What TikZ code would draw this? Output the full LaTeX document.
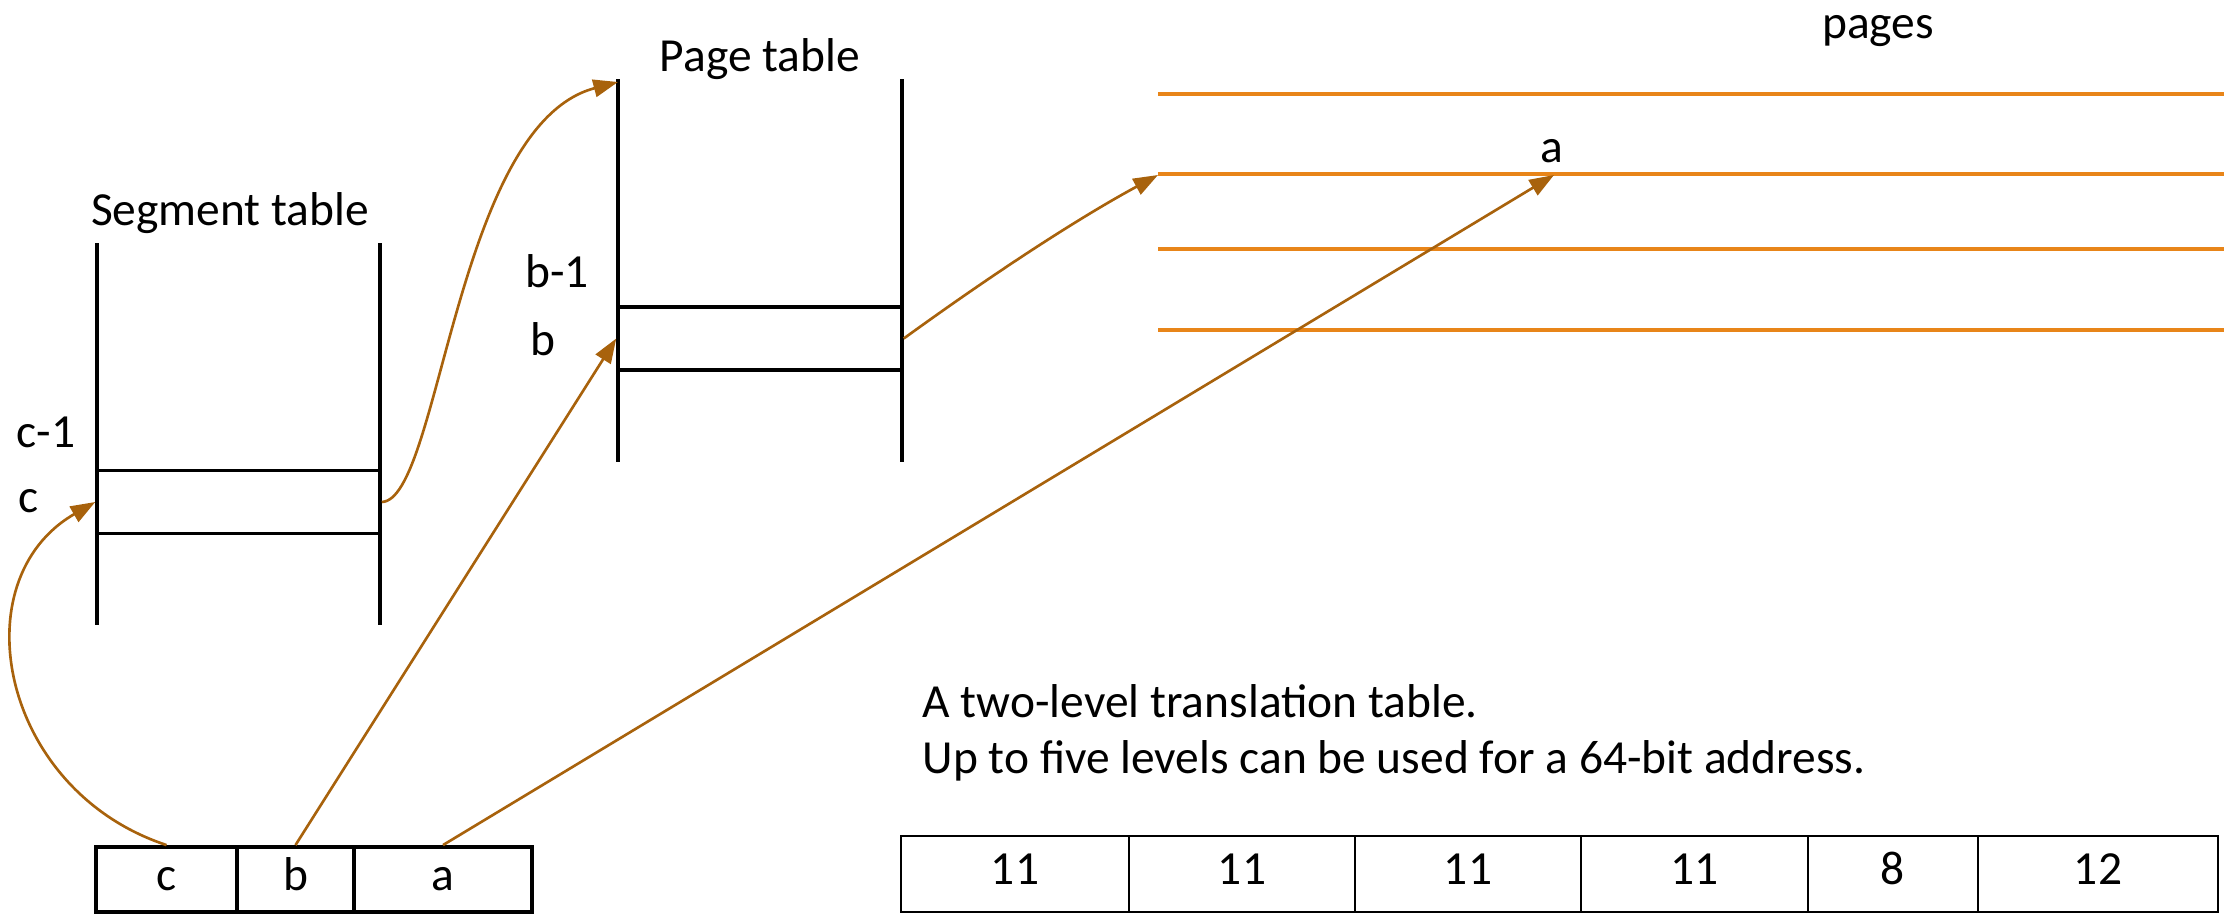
\documentclass[tikz,border=0pt]{standalone}
\usepackage{fontspec}
\setmainfont{Carlito}
\usetikzlibrary{arrows.meta}
\definecolor{arrowbrown}{RGB}{168,98,12}
\definecolor{pageorange}{RGB}{232,133,25}
\begin{document}
\begin{tikzpicture}[x=0.01cm,y=-0.01cm,
  txt/.style={font=\fontsize{13.5}{16}\selectfont, inner sep=0pt, anchor=base},
  tableline/.style={line width=0.95pt, black},
  rowbox/.style={draw, line width=0.95pt, inner sep=0pt, minimum height=0.63cm},
  addrcell/.style={draw, line width=1.1pt, inner sep=0pt, minimum height=0.65cm,
    font=\fontsize{13.5}{16}\selectfont, text height=1.5ex, text depth=.25ex},
  fieldcell/.style={draw, line width=0.6pt, inner sep=0pt, minimum height=0.76cm,
    font=\fontsize{13.5}{16}\selectfont, text height=1.5ex, text depth=.25ex},
  pageline/.style={pageorange, line width=1.4pt},
  link/.style={arrowbrown, line width=0.75pt, -{Triangle[length=7pt,width=5pt]}}
]
\useasboundingbox (0,0) rectangle (2224,914);

% ---------- Segment table ----------
\node[txt] (segtitle) at (230,225) {Segment table};
\draw[tableline] (97,243) -- (97,625);
\draw[tableline] (380,243) -- (380,625);
\node[rowbox, minimum width=2.83cm] (segc) at (238.5,502) {};
\node[txt] (lblc1) at (46,447) {c-1};
\node[txt] (lblc) at (29,512) {c};

% ---------- Page table ----------
\node[txt] (pttitle) at (760,71) {Page table};
\draw[tableline] (618,79) -- (618,462);
\draw[tableline] (902,79) -- (902,462);
\coordinate (pttop) at (618,82);
\node[rowbox, minimum width=2.84cm] (pgb) at (760,338.5) {};
\node[txt] (lblb1) at (557,287) {b-1};
\node[txt] (lblb) at (543,355) {b};

% ---------- Pages ----------
\node[txt] (pageslbl) at (1878,38) {pages};
\draw[pageline] (1158,94) -- (2224,94);
\draw[pageline] (1158,174) -- (2224,174);
\draw[pageline] (1158,249) -- (2224,249);
\draw[pageline] (1158,330) -- (2224,330);
\coordinate (pagestart) at (1158,175);
\coordinate (pagea) at (1554,175);
\node[txt] (lbla) at (1552,162) {a};

% ---------- Address ----------
\node[addrcell, minimum width=1.41cm] (ac) at (166.5,879.5) {c};
\node[addrcell, minimum width=1.17cm] (ab) at (295.5,879.5) {b};
\node[addrcell, minimum width=1.78cm] (aa) at (443,879.5) {a};

% ---------- Caption ----------
\node[txt, anchor=base west] (cap1) at (922,717) {A two-level translation table.};
\node[txt, anchor=base west] (cap2) at (922,773) {Up to five levels can be used for a 64-bit address.};

% ---------- 64-bit field table ----------
\node[fieldcell, minimum width=2.28cm] (f1) at (1015,874) {11};
\node[fieldcell, minimum width=2.26cm] (f2) at (1242,874) {11};
\node[fieldcell, minimum width=2.26cm] (f3) at (1468,874) {11};
\node[fieldcell, minimum width=2.27cm] (f4) at (1694.5,874) {11};
\node[fieldcell, minimum width=1.70cm] (f5) at (1893,874) {8};
\node[fieldcell, minimum width=2.40cm] (f6) at (2098,874) {12};

% ---------- Connectors ----------
\draw[link] (ac.north) .. controls (0,790) and (-40,580) .. (segc.west);
\draw[link] (segc.east) .. controls (440,500) and (455,125) .. (pttop);
\draw[link] (ab.north) -- (pgb.west);
\draw[link] (aa.north) -- (pagea);
\draw[link] (pgb.east) .. controls (990,276) and (1075,220) .. (pagestart);
\end{tikzpicture}
\end{document}
